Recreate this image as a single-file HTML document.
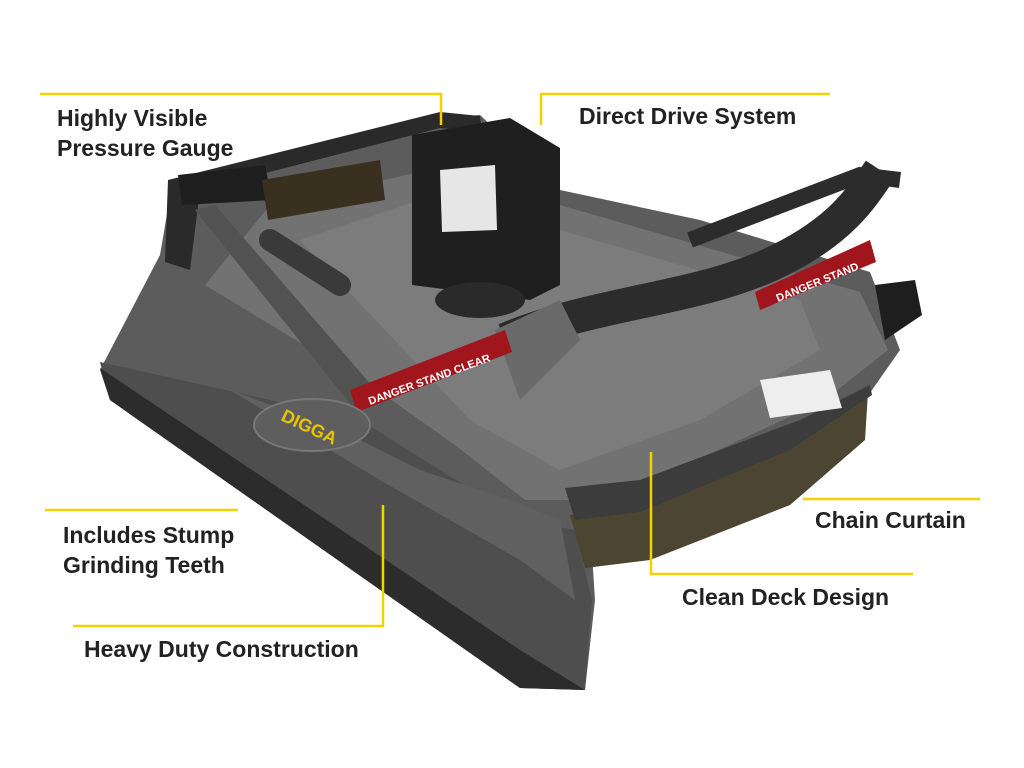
<!DOCTYPE html>
<html><head><meta charset="utf-8"><style>
html,body{margin:0;padding:0;background:#fff;}
body{width:1024px;height:768px;overflow:hidden;position:relative;}
svg{position:absolute;left:0;top:0;}
.t{font-family:"Liberation Sans",sans-serif;font-weight:bold;font-size:23px;fill:#222;}
</style></head><body>
<svg width="1024" height="768" viewBox="0 0 1024 768">
<polygon points="100,370 160,255 172,185 290,150 440,118 480,115 560,190 700,220 870,272 900,350 865,400 780,452 640,512 590,522 595,600 585,690 520,688 110,400" fill="#5c5c5c"/>
<polygon points="205,285 270,205 420,172 560,205 860,292 888,350 822,402 610,500 525,500 455,445 370,385" fill="#727272"/>
<polygon points="300,240 420,200 560,230 800,300 820,350 700,420 560,470 470,420" fill="#7c7c7c"/>
<polygon points="100,362 360,420 520,520 575,530 592,600 585,690 520,688 110,400" fill="#4e4e4e"/>
<polygon points="100,368 520,650 585,690 520,688 110,400" fill="#2c2c2c"/>
<polygon points="230,390 340,430 420,470 510,500 560,520 575,600 520,560 380,480" fill="#606060"/>
<polygon points="570,515 640,505 780,450 868,392 865,440 790,505 650,560 585,568" fill="#4b4531"/>
<polygon points="565,488 640,480 800,420 870,385 872,395 790,450 640,512 575,520" fill="#3c3c3c"/>
<polygon points="168,180 440,112 480,116 482,132 440,128 200,190 190,270 165,262" fill="#2a2a2a"/>
<polygon points="178,175 265,165 272,200 182,205" fill="#1e1e1e"/>
<polygon points="262,180 380,160 385,200 268,220" fill="#3a3020"/>
<line x1="270" y1="240" x2="340" y2="285" stroke="#3a3a3a" stroke-width="22" stroke-linecap="round"/>
<polygon points="195,210 215,205 380,395 355,410" fill="#525252"/>
<polygon points="412,135 510,118 560,148 560,285 530,300 412,285" fill="#1f1f1f"/>
<polygon points="440,170 495,165 497,230 442,232" fill="#e6e6e6"/>
<ellipse cx="480" cy="300" rx="45" ry="18" fill="#2a2a2a"/>
<path d="M505,340 C600,300 700,300 780,260 C840,230 860,200 880,170" stroke="#2c2c2c" stroke-width="34" fill="none"/>
<path d="M690,240 L860,175 L900,180" stroke="#2c2c2c" stroke-width="16" fill="none"/>
<polygon points="495,330 560,300 580,340 520,400" fill="#6a6a6a"/>
<polygon points="755,292 870,240 876,262 760,310" fill="#a0161c"/>
<polygon points="350,390 505,330 512,352 357,412" fill="#a0161c"/>
<text x="370" y="405" transform="rotate(-20 370 405)" font-family="Liberation Sans,sans-serif" font-size="11" font-weight="bold" fill="#fff">DANGER STAND CLEAR</text>
<text x="778" y="302" transform="rotate(-22 778 302)" font-family="Liberation Sans,sans-serif" font-size="11" font-weight="bold" fill="#fff">DANGER STAND</text>
<polygon points="760,380 830,370 842,408 770,418" fill="#eee"/>
<polygon points="875,285 915,280 922,315 885,340" fill="#1e1e1e"/>
<ellipse cx="312" cy="425" rx="58" ry="26" fill="#5e5e5e" stroke="#777" stroke-width="2"/>
<text x="280" y="420" transform="rotate(25 280 420)" font-family="Liberation Sans,sans-serif" font-size="18" font-weight="bold" fill="#e8c400">DIGGA</text>
<g stroke="#f2d300" stroke-width="2.5" fill="none">
<polyline points="40,94 441,94 441,125"/>
<polyline points="541,125 541,94 830,94"/>
<line x1="45" y1="510" x2="238" y2="510"/>
<polyline points="73,626 383,626 383,505"/>
<line x1="803" y1="499" x2="980" y2="499"/>
<polyline points="651,452 651,574 913,574"/>
</g>
<text class="t" x="57" y="126">Highly Visible</text>
<text class="t" x="57" y="156">Pressure Gauge</text>
<text class="t" x="579" y="124">Direct Drive System</text>
<text class="t" x="63" y="543">Includes Stump</text>
<text class="t" x="63" y="573">Grinding Teeth</text>
<text class="t" x="84" y="657">Heavy Duty Construction</text>
<text class="t" x="815" y="528">Chain Curtain</text>
<text class="t" x="682" y="605">Clean Deck Design</text>
</svg>
</body></html>
